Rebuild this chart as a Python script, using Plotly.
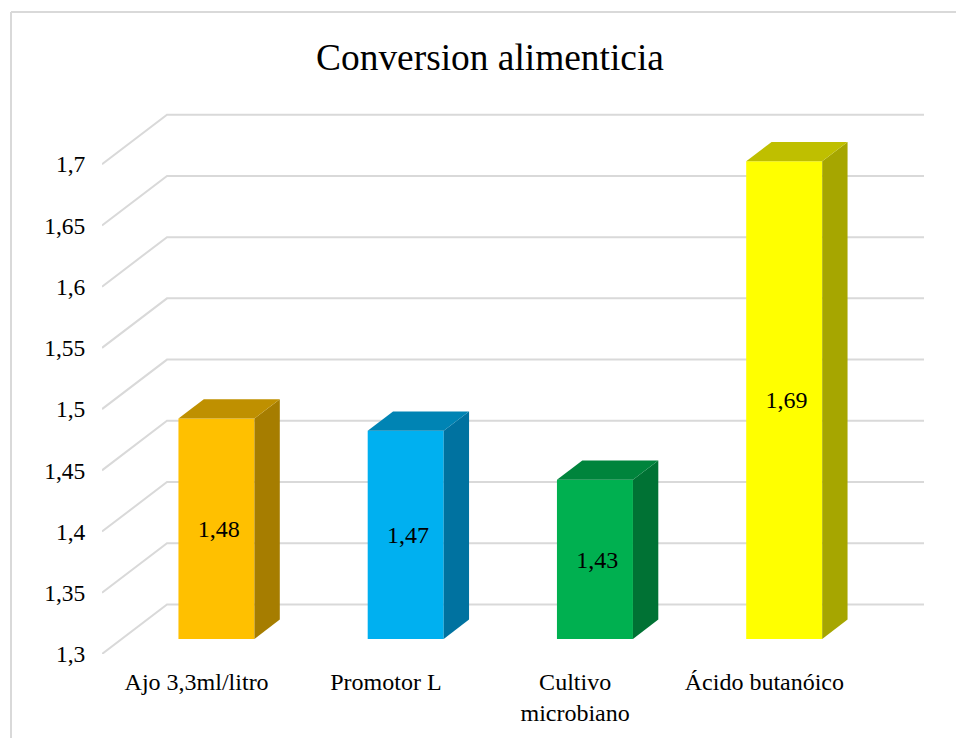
import plotly.graph_objects as go

categories = ["Ajo 3,3ml/litro", "Promotor L", "Cultivo<br>microbiano", "Ácido butanóico"]
values = [1.48, 1.47, 1.43, 1.69]
value_labels = ["1,48", "1,47", "1,43", "1,69"]
y_ticks = [1.3, 1.35, 1.4, 1.45, 1.5, 1.55, 1.6, 1.65, 1.7]
y_tick_labels = ["1,3", "1,35", "1,4", "1,45", "1,5", "1,55", "1,6", "1,65", "1,7"]
front_colors = ["#FFC000", "#00B0F0", "#00B050", "#FFFF00"]
top_colors = ["#BF9000", "#0084B4", "#00843C", "#BFBF00"]
side_colors = ["#A67D00", "#0072A0", "#007234", "#A6A600"]

W, H = 956, 738
L, R, T, B = 102, 926, 108, 654            # plot area in pixels
CAT_PX = 189.25
VAL_PX = 1224.5
BASE = 1.3
DX = 65 / CAT_PX                           # full chart depth, in x units
DY = 49.5 / VAL_PX                         # full chart depth, in y units
D0, D1 = 0.305, 0.695                      # bar depth span
BAR_W = 76 / CAT_PX

x_range = [-0.5, -0.5 + (R - L) / CAT_PX]
y_range = [BASE, BASE + (B - T) / VAL_PX]
GRID = "#D9D9D9"
GRID_END = -0.5 + (924 - L) / CAT_PX

shapes = []
for v in y_ticks:
    path = (f"M {x_range[0]} {v} L {x_range[0] + DX} {v + DY} L {GRID_END} {v + DY}")
    shapes.append(dict(type="path", path=path, xref="x", yref="y", layer="below",
                       line=dict(color=GRID, width=2)))
# outer frame (left and top edges only)
fx = (11 - L) / (R - L)
fy = (B - 12) / (B - T)
shapes.append(dict(type="line", xref="paper", yref="paper", x0=fx, x1=(W - L) / (R - L),
                   y0=fy, y1=fy, line=dict(color=GRID, width=2), layer="below"))
shapes.append(dict(type="line", xref="paper", yref="paper", x0=fx, x1=fx,
                   y0=(B - H) / (B - T), y1=fy, line=dict(color=GRID, width=2), layer="below"))

fig = go.Figure()
fig.add_trace(go.Bar(
    x=[i + D0 * DX for i in range(len(values))],
    y=[v - BASE for v in values],
    base=[BASE + D0 * DY] * len(values),
    width=BAR_W,
    marker=dict(color=front_colors, line=dict(width=0)),
    showlegend=False,
))

for i, v in enumerate(values):
    xl = i + D0 * DX - BAR_W / 2
    xr = i + D0 * DX + BAR_W / 2
    sx = (D1 - D0) * DX
    sy = (D1 - D0) * DY
    b = BASE + D0 * DY
    t = v + D0 * DY
    fig.add_trace(go.Scatter(x=[xr, xr + sx, xr + sx, xr, xr], y=[b, b + sy, t + sy, t, b],
                             mode="lines", fill="toself", fillcolor=side_colors[i],
                             line=dict(width=0), showlegend=False, hoverinfo="skip"))
    fig.add_trace(go.Scatter(x=[xl, xr, xr + sx, xl + sx, xl], y=[t, t, t + sy, t + sy, t],
                             mode="lines", fill="toself", fillcolor=top_colors[i],
                             line=dict(width=0), showlegend=False, hoverinfo="skip"))

fig.add_trace(go.Scatter(
    x=[i + 0.34 * DX for i in range(len(values))],
    y=[BASE + (v - BASE) / 2 + 0.26 * DY for v in values],
    mode="text", text=value_labels, textposition="middle center",
    textfont=dict(family="Liberation Serif", size=24, color="#000000"),
    showlegend=False, hoverinfo="skip",
))

fig.update_layout(
    width=W, height=H,
    margin=dict(l=L, r=W - R, t=T, b=H - B, pad=0),
    paper_bgcolor="#FFFFFF", plot_bgcolor="rgba(0,0,0,0)",
    barmode="overlay",
    showlegend=False,
    shapes=shapes,
    font=dict(family="Liberation Serif", size=24, color="#000000"),
    title=dict(text="Conversion alimenticia", x=490 / W, xref="container", xanchor="center",
               y=1 - 57 / H, yref="container", yanchor="middle",
               font=dict(family="Liberation Serif", size=37.4, color="#000000")),
    xaxis=dict(range=x_range, tickvals=list(range(len(categories))), ticktext=categories,
               showgrid=False, zeroline=False, showline=False, ticks="outside", ticklen=6,
               tickcolor="rgba(0,0,0,0)", tickangle=0, automargin=False,
               tickfont=dict(family="Liberation Serif", size=24, color="#000000")),
    yaxis=dict(range=y_range, tickvals=y_ticks, ticktext=y_tick_labels,
               showgrid=False, zeroline=False, showline=False, ticks="outside", ticklen=11,
               tickcolor="rgba(0,0,0,0)", automargin=False,
               tickfont=dict(family="Liberation Serif", size=23.5, color="#000000")),
)

fig.write_html("out.html", config={"displayModeBar": False},
               post_script="document.body.style.margin='0';")
